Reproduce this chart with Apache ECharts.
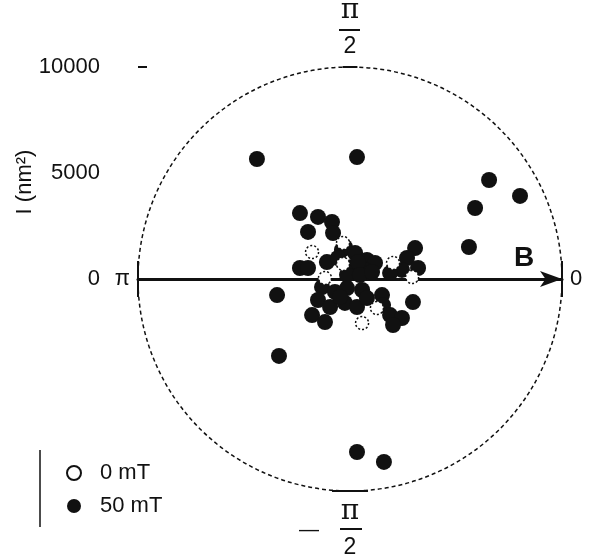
<!DOCTYPE html>
<html>
<head>
<meta charset="utf-8">
<script src="https://cdn.jsdelivr.net/npm/echarts@6/dist/echarts.min.js"></script>
<style>
html,body{margin:0;padding:0;background:#fff}
#chart{width:591px;height:559px}
</style>
</head>
<body>
<div id="chart"></div>
<script>
// values, nm^2 (x along B, y across it)
var points0mT = [
    [-1790, 1270], [-330, 1700], [-330, 710], [-1180, 50],
    [2030, 760], [2930, 90], [1270, -1370], [570, -2080]
];
var points50mT = [
    // outliers
    [-4390, 5660], [330, 5750], [6560, 4670], [8020, 3920], [5900, 3350], [5610, 1510],
    [-3440, -760], [-3350, -3630], [330, -8160], [1600, -8630],
    // central group, above B
    [-2360, 3110], [-1510, 2930], [-850, 2690], [-1980, 2220], [-800, 2170],
    [-380, 1370], [-1090, 800], [-2360, 520], [-1980, 520],
    [-240, 1510], [240, 1230], [800, 900], [1180, 760], [90, 570], [710, 430],
    [-140, 190], [380, 800], [470, 190], [1040, 330], [-570, 990],
    [3070, 1460], [2690, 990], [3210, 520], [2450, 430], [1890, 280],
    // central group, below B
    [-1320, -380], [-1510, -990], [-940, -1320], [-140, -430], [570, -520],
    [-240, -1130], [330, -1320], [800, -900], [1510, -760], [1560, -1230],
    [2970, -1090], [-1790, -1700], [-1180, -2030], [1890, -1700], [2450, -1840],
    [2030, -2170], [-710, -610], [-470, -850]
];
var yLabelValues = [0, 5000, 10000];
var yTickValues = [10000];
var axisRange = 10000;

var chart = echarts.init(document.getElementById('chart'));
var ink = '#111';
var font = 'Liberation Sans';

function angleLabel(v){
    if(v === 0) return '{z|0}';
    if(v === 90) return '{p|π}\n{gap| }\n{t|2}';
    if(v === 180) return '{z|π}';
    if(v === 270) return '{sp| }{p|π}{sp| }\n{m|—}{gap| }{sp| }\n{sp| }{t|2}{sp| }';
    return '';
}

var option = {
    backgroundColor: '#fff',
    animation: false,
    textStyle: {fontFamily: font, color: ink},
    grid: {left: 138, right: 29, top: 67, bottom: 68},
    polar: {center: [350, 279], radius: 212},
    angleAxis: {
        type: 'value', min: 0, max: 360, interval: 90,
        startAngle: 0, clockwise: false,
        axisLine: {lineStyle: {color: ink, width: 1.5, type: [4, 3]}},
        axisTick: {show: false},
        splitLine: {show: false},
        axisLabel: {
            margin: 8,
            color: ink,
            formatter: angleLabel,
            rich: {
                z: {fontSize: 22, fontFamily: font, color: ink},
                p: {fontSize: 28, fontFamily: 'DejaVu Serif', lineHeight: 25, color: ink},
                gap: {width: 22, fontSize: 12, lineHeight: 12},
                t: {fontSize: 23, fontFamily: font, lineHeight: 24, color: ink},
                m: {width: 40, fontSize: 20, lineHeight: 12, fontFamily: font, align: 'left', color: ink},
                sp: {width: 40}
            }
        }
    },
    radiusAxis: {min: 0, max: axisRange, show: false},
    xAxis: {
        type: 'value', min: -axisRange, max: axisRange,
        axisLine: {onZero: true, symbol: ['none', 'arrow'], symbolSize: [12, 22],
            lineStyle: {color: ink, width: 3}},
        axisTick: {show: false},
        axisLabel: {show: false},
        splitLine: {show: false}
    },
    yAxis: {
        type: 'value', min: -axisRange, max: axisRange,
        axisLine: {show: false, onZero: false},
        axisTick: {show: true, inside: true, length: 9, customValues: yTickValues,
            lineStyle: {color: ink, width: 2}},
        axisLabel: {margin: 38, fontSize: 22, color: ink, customValues: yLabelValues,
            formatter: function(v){ return String(v); }},
        splitLine: {show: false}
    },
    legend: {
        orient: 'vertical', left: 61, top: 457, itemGap: 11,
        itemWidth: 14, itemHeight: 14,
        textStyle: {fontSize: 22, color: ink, fontFamily: font, padding: [0, 0, 0, 14]},
        data: ['0 mT', '50 mT']
    },
    graphic: [
        {type: 'text', x: 25, y: 182, rotation: Math.PI / 2,
            style: {text: 'I (nm²)', font: '22px Liberation Sans', fill: ink, align: 'center', verticalAlign: 'middle'}},
        {type: 'text', x: 524, y: 258,
            style: {text: 'B', font: 'bold 28px Liberation Sans', fill: ink, align: 'center', verticalAlign: 'middle'}},
        {type: 'line', shape: {x1: 40, y1: 450, x2: 40, y2: 527}, style: {stroke: ink, lineWidth: 1.5}},
        // fraction bars of the pi/2 labels
        {type: 'rect', shape: {x: 339, y: 29, width: 21, height: 2}, style: {fill: ink}},
        {type: 'rect', shape: {x: 340, y: 528, width: 22, height: 2}, style: {fill: ink}}
    ],
    series: [
        {
            name: '50 mT', type: 'scatter', symbolSize: 16, z: 2,
            itemStyle: {color: ink, opacity: 1},
            data: points50mT
        },
        {
            name: '0 mT', type: 'scatter', symbolSize: 13, z: 3,
            itemStyle: {color: '#fff', borderColor: ink, borderWidth: 1.5, borderType: [2, 2], opacity: 1},
            data: points0mT
        },
        {
            name: 'ticks', type: 'scatter', data: [], silent: true,
            markLine: {
                symbol: 'none', silent: true, label: {show: false},
                lineStyle: {color: ink, width: 2, type: 'solid'},
                data: [
                    [{coord: [-axisRange, -850]}, {coord: [-axisRange, 850]}],
                    [{coord: [axisRange, -850]}, {coord: [axisRange, 850]}],
                    [{coord: [-350, axisRange]}, {coord: [350, axisRange]}],
                    [{coord: [-850, -axisRange]}, {coord: [850, -axisRange]}]
                ]
            }
        }
    ]
};
chart.setOption(option);
</script>
</body>
</html>
